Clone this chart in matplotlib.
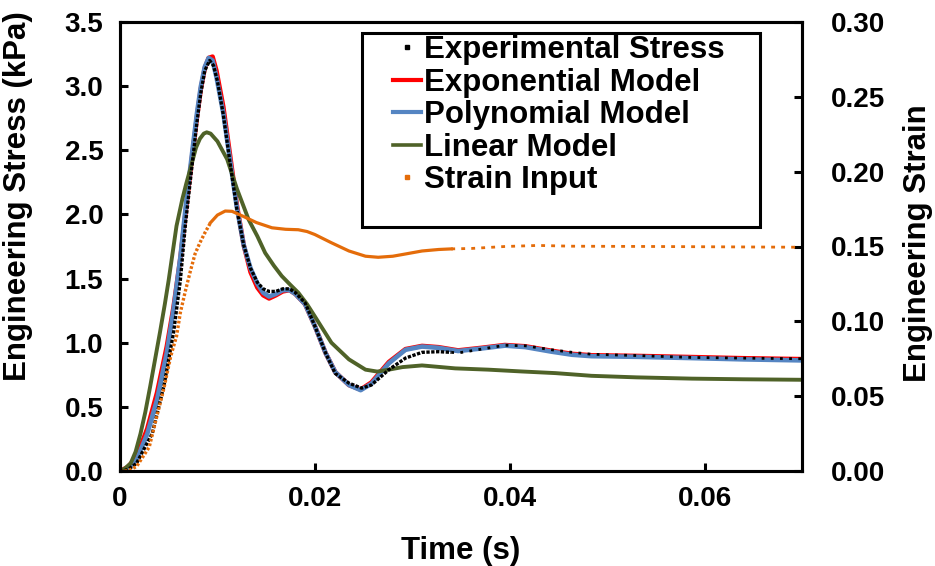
import matplotlib
matplotlib.use("Agg")
import matplotlib.pyplot as plt
from matplotlib.lines import Line2D
from matplotlib.patches import Rectangle
import numpy as np

plt.rcParams['font.family'] = ['Liberation Sans', 'DejaVu Sans']
plt.rcParams['font.weight'] = 'bold'

# ----------------------------
# Data
# ----------------------------
exp_t = [0.0, 0.0008, 0.0017, 0.0028, 0.0033, 0.0045, 0.0055, 0.0062, 0.0067, 0.0072,
         0.0079, 0.0083, 0.0087, 0.0092, 0.0096, 0.0100, 0.0106, 0.0113, 0.0120, 0.0127,
         0.0134, 0.0141, 0.0147, 0.0153, 0.0160, 0.0167, 0.0174, 0.0180, 0.0190, 0.0200,
         0.0211, 0.0221, 0.0235, 0.0248, 0.0258, 0.0267, 0.0276, 0.0293, 0.0310, 0.0327,
         0.0340, 0.0347, 0.0371, 0.0395, 0.0416, 0.0443, 0.0464, 0.0484, 0.0530, 0.0587,
         0.0640, 0.0700]
exp_stress = [0.0, 0.01, 0.06, 0.22, 0.29, 0.66, 1.08, 1.49, 1.91, 2.25,
              2.72, 2.95, 3.12, 3.20, 3.16, 3.04, 2.78, 2.40, 2.04, 1.76,
              1.58, 1.47, 1.42, 1.40, 1.40, 1.42, 1.42, 1.39, 1.31, 1.13,
              0.92, 0.76, 0.685, 0.646, 0.67, 0.73, 0.79, 0.88, 0.925, 0.93,
              0.925, 0.92, 0.95, 0.98, 0.976, 0.945, 0.925, 0.91, 0.90, 0.885,
              0.88, 0.875]

model_t = [0.0, 0.0008, 0.0017, 0.0028, 0.0038, 0.0048, 0.0055, 0.0062, 0.0068, 0.0074,
           0.0079, 0.0083, 0.0087, 0.0091, 0.0095, 0.0099, 0.0106, 0.0113, 0.0120, 0.0127,
           0.0134, 0.0141, 0.0147, 0.0153, 0.0160, 0.0167, 0.0174, 0.0180, 0.0190, 0.0200,
           0.0211, 0.0221, 0.0235, 0.0247, 0.0258, 0.0267, 0.0276, 0.0293, 0.0310, 0.0327,
           0.0347, 0.0371, 0.0395, 0.0416, 0.0443, 0.0464, 0.0484, 0.0530, 0.0587, 0.0640,
           0.0700]
exponential = [0.0, 0.03, 0.11, 0.33, 0.61, 0.97, 1.28, 1.66, 2.06, 2.45,
               2.76, 2.98, 3.14, 3.22, 3.23, 3.12, 2.84, 2.46, 2.07, 1.76,
               1.55, 1.43, 1.37, 1.345, 1.37, 1.40, 1.41, 1.38, 1.30, 1.13,
               0.92, 0.77, 0.67, 0.635, 0.69, 0.77, 0.85, 0.95, 0.975, 0.965,
               0.94, 0.96, 0.982, 0.972, 0.937, 0.913, 0.902, 0.897, 0.888, 0.879,
               0.872]
polynomial = [0.0, 0.02, 0.086, 0.29, 0.555, 0.92, 1.26, 1.67, 2.10, 2.48,
              2.79, 3.00, 3.15, 3.22, 3.20, 3.07, 2.79, 2.42, 2.05, 1.76,
              1.58, 1.46, 1.39, 1.36, 1.38, 1.41, 1.41, 1.38, 1.30, 1.13,
              0.92, 0.77, 0.67, 0.63, 0.68, 0.76, 0.84, 0.945, 0.97, 0.96,
              0.935, 0.955, 0.977, 0.966, 0.93, 0.906, 0.895, 0.89, 0.88, 0.87,
              0.862]

lin_t = [0.0, 0.0005, 0.0011, 0.0016, 0.0021, 0.0026, 0.0031, 0.0036, 0.0041, 0.0046,
         0.0050, 0.0054, 0.0058, 0.0064, 0.0068, 0.0072, 0.0078, 0.0082, 0.0086, 0.0089,
         0.0093, 0.0100, 0.0110, 0.0120, 0.0132, 0.0141, 0.0149, 0.0158, 0.0166, 0.0175,
         0.0183, 0.0192, 0.0200, 0.0217, 0.0235, 0.0252, 0.0264, 0.0276, 0.0290, 0.0310,
         0.0344, 0.0378, 0.0412, 0.0447, 0.0484, 0.0530, 0.0587, 0.0640, 0.0700]
linear = [0.0, 0.02, 0.06, 0.15, 0.29, 0.46, 0.66, 0.87, 1.08, 1.30,
          1.49, 1.70, 1.91, 2.12, 2.24, 2.35, 2.52, 2.59, 2.63, 2.64,
          2.63, 2.57, 2.43, 2.20, 1.96, 1.83, 1.70, 1.60, 1.52, 1.45,
          1.39, 1.30, 1.205, 1.00, 0.87, 0.79, 0.775, 0.79, 0.81, 0.823,
          0.80, 0.79, 0.776, 0.763, 0.742, 0.73, 0.72, 0.715, 0.711]

strain_t = [0.0, 0.0008, 0.0017, 0.0030, 0.0038, 0.0045, 0.0052, 0.0058, 0.0062, 0.0067,
            0.0072, 0.0077, 0.0082, 0.0087, 0.0093, 0.0100, 0.0108, 0.0115, 0.0127, 0.0140,
            0.0156, 0.0170, 0.0183, 0.0192, 0.0200, 0.0217, 0.0235, 0.0252, 0.0265, 0.0280,
            0.0293, 0.0310, 0.0327, 0.0340, 0.0361, 0.0395, 0.0429, 0.0464, 0.0550, 0.0640,
            0.0700]
strain = [0.0, 0.0, 0.003, 0.016, 0.037, 0.055, 0.0765, 0.090, 0.106, 0.120,
          0.133, 0.145, 0.1525, 0.159, 0.166, 0.171, 0.1737, 0.1735, 0.170, 0.166,
          0.1625, 0.1615, 0.1612, 0.160, 0.158, 0.1525, 0.147, 0.1435, 0.1428, 0.1435,
          0.145, 0.147, 0.148, 0.1484, 0.1487, 0.150, 0.1507, 0.1502, 0.150, 0.1497,
          0.1495]

x_ticks = [0, 0.02, 0.04, 0.06]
x_labels = ["0", "0.02", "0.04", "0.06"]
y_ticks = [0.0, 0.5, 1.0, 1.5, 2.0, 2.5, 3.0, 3.5]
y2_ticks = [0.0, 0.05, 0.10, 0.15, 0.20, 0.25, 0.30]

# крутой подъём и редкие точки в конце -> рисуем пунктиром
RISE_END = 0.0093
SPLIT = 0.034

# ----------------------------
# Figure
# ----------------------------
W, H = 935, 566
fig = plt.figure(figsize=(W / 100, H / 100), dpi=100)
ax = fig.add_axes([120 / W, 95 / H, 682 / W, 449 / H])
ax2 = ax.twinx()

ax.plot(model_t, exponential, color="#FF0000", lw=3.3, zorder=2)
ax.plot(model_t, polynomial, color="#5585C2", lw=3.3, zorder=3)
ax.plot(lin_t, linear, color="#4F6228", lw=2.8, zorder=4)

et = np.array(exp_t)
es = np.array(exp_stress)
i = np.searchsorted(et, SPLIT)
ax.plot(et[:i + 1], es[:i + 1], color="black", lw=2.4,
        linestyle=(0, (1.0, 0.45)), zorder=5)
ax.plot(et[i:], es[i:], color="black", lw=2.0,
        linestyle=(0, (1.0, 2.3)), zorder=5)

st = np.array(strain_t)
sv = np.array(strain)
k = np.searchsorted(st, RISE_END)
j = np.searchsorted(st, SPLIT)
ax2.plot(st[:k + 1], sv[:k + 1], color="#E46C0A", lw=2.4, linestyle=(0, (0.8, 0.6)))
ax2.plot(st[k:j + 1], sv[k:j + 1], color="#E46C0A", lw=2.3)
ax2.plot(st[j:], sv[j:], color="#E46C0A", lw=2.0, linestyle=(0, (1.4, 2.2)))

ax.set_xlim(0, 0.07)
ax.set_ylim(0, 3.5)
ax2.set_ylim(0, 0.30)

ax.set_xticks(x_ticks)
ax.set_xticklabels(x_labels)
ax.set_yticks(y_ticks)
ax.set_yticklabels([f"{v:.1f}" for v in y_ticks])
ax2.set_yticks(y2_ticks)
ax2.set_yticklabels([f"{v:.2f}" for v in y2_ticks])

ax.tick_params(axis="both", direction="in", length=6, width=2.2, labelsize=20)
ax.tick_params(axis="x", pad=11)
ax.tick_params(axis="y", pad=12)
ax2.tick_params(axis="y", direction="in", length=6, width=2.2, labelsize=20, pad=21)

for a in (ax, ax2):
    for sp in a.spines.values():
        sp.set_linewidth(2.2)

ax.set_xlabel("Time (s)", fontsize=22.5, fontweight="bold")
ax.set_ylabel("Engineering Stress (kPa)", fontsize=22.5, fontweight="bold")
ax2.set_ylabel("Engineering Strain", fontsize=22.5, fontweight="bold")
ax.xaxis.set_label_coords(0.5, -0.145)
ax.yaxis.set_label_coords(-0.127, 0.612)
ax2.yaxis.set_label_coords(1.148, 0.508)

# ----------------------------
# Legend
# ----------------------------
handles = [
    Line2D([], [], color="black", marker="s", markersize=2.5, linestyle="none"),
    Line2D([], [], color="#FF0000", lw=3.0),
    Line2D([], [], color="#5585C2", lw=3.0),
    Line2D([], [], color="#4F6228", lw=2.6),
    Line2D([], [], color="#E46C0A", marker="s", markersize=3, linestyle="none"),
]
names = ["Experimental Stress", "Exponential Model", "Polynomial Model",
         "Linear Model", "Strain Input"]
leg = ax2.legend(handles, names, loc="upper left",
                 bbox_to_anchor=(393 / W, 1 - 35 / H), bbox_transform=fig.transFigure,
                 frameon=False, fontsize=22.5, handlelength=0.89, handletextpad=0.1,
                 labelspacing=0.08, borderpad=0, borderaxespad=0)
fig.add_artist(Rectangle((362 / W, 1 - 227 / H), 398 / W, 194 / H,
                         transform=fig.transFigure, fill=False, lw=2.2,
                         edgecolor="black", zorder=10))

plt.savefig("out.png", dpi=100)
